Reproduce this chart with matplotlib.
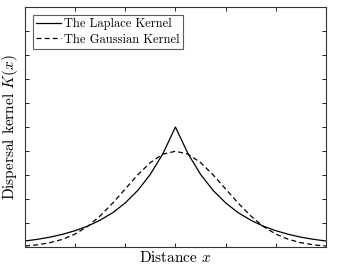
import numpy as np
import matplotlib
matplotlib.use("Agg")
import matplotlib.pyplot as plt

plt.rcParams['font.family'] = 'serif'
plt.rcParams['font.serif'] = ['cmr10']
plt.rcParams['mathtext.fontset'] = 'cm'
plt.rcParams['axes.formatter.use_mathtext'] = True

x = [-3.0, -2.75, -2.5, -2.25, -2.0, -1.75, -1.5, -1.25, -1.0, -0.75, -0.5, -0.25, 0.0,
     0.25, 0.5, 0.75, 1.0, 1.25, 1.5, 1.75, 2.0, 2.25, 2.5, 2.75, 3.0]
laplace = [0.025, 0.032, 0.041, 0.053, 0.068, 0.087, 0.112, 0.143, 0.184, 0.236, 0.303, 0.389, 0.5,
           0.389, 0.303, 0.236, 0.184, 0.143, 0.112, 0.087, 0.068, 0.053, 0.041, 0.032, 0.025]
gauss = [0.004, 0.009, 0.018, 0.032, 0.054, 0.086, 0.130, 0.183, 0.242, 0.301, 0.352, 0.387, 0.399,
         0.387, 0.352, 0.301, 0.242, 0.183, 0.130, 0.086, 0.054, 0.032, 0.018, 0.009, 0.004]
xticks = [-3, -2, -1, 0, 1, 2, 3]
yticks = [0.0, 0.1, 0.2, 0.3, 0.4, 0.5, 0.6, 0.7, 0.8, 0.9, 1.0]

fig = plt.figure(figsize=(3.43, 2.72), dpi=100)
ax = fig.add_axes([0.073, 0.092, 0.877, 0.882])

ax.plot(x, laplace, color='black', lw=0.9, label='The Laplace Kernel')
ax.plot(x, gauss, color='black', lw=0.9, ls=(0, (4, 2.5)), label='The Gaussian Kernel')

ax.set_xlim(-3, 3)
ax.set_ylim(0, 1)
ax.set_xticks(xticks)
ax.set_yticks(yticks)
ax.set_xticklabels([])
ax.set_yticklabels([])
ax.tick_params(direction='in', length=3, width=0.6, top=True, right=True)
for s in ax.spines.values():
    s.set_linewidth(0.8)
    s.set_color('#333333')

ax.set_xlabel('Distance $x$', fontsize=11)
ax.set_ylabel('Dispersal kernel $K(x)$', fontsize=11)
ax.xaxis.set_label_coords(0.5, -0.012)
ax.yaxis.set_label_coords(-0.017, 0.5)

leg = ax.legend(loc='upper left', fontsize=9, frameon=True, fancybox=False,
                handlelength=2.0, handletextpad=0.2, borderpad=0.3,
                labelspacing=0.25, borderaxespad=0.6)
leg.get_frame().set_edgecolor('#333333')
leg.get_frame().set_linewidth(0.8)

fig.savefig('out.png', dpi=100)
